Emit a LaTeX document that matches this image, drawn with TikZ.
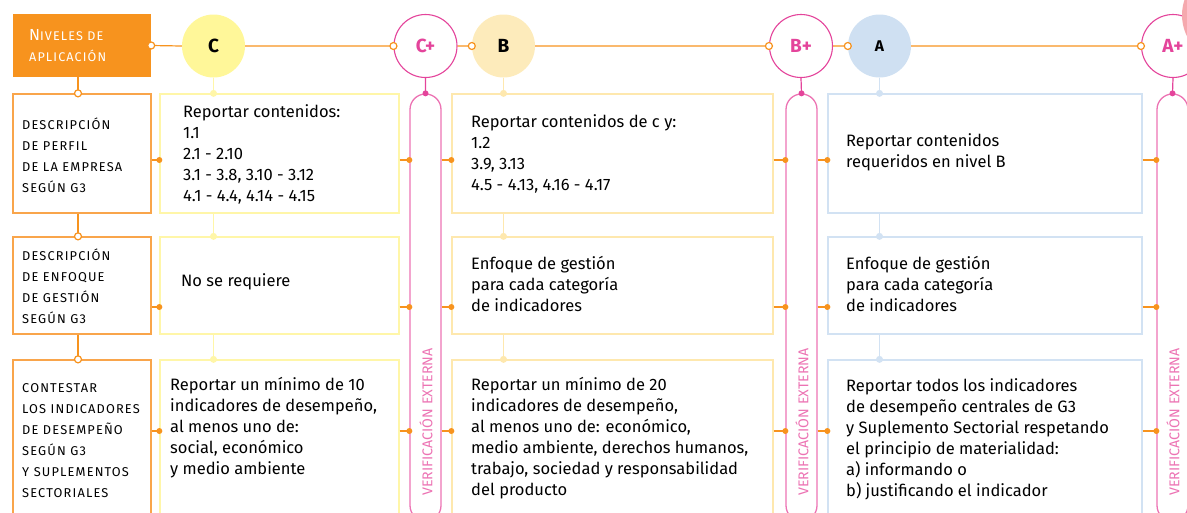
\documentclass[tikz,border=0pt]{standalone}
\usepackage{fontspec}
\setmainfont{Fira Sans}
\newfontfamily\versalita[LetterSpace=9]{Fira Sans}
\usepackage{xcolor}
\usetikzlibrary{calc}
\definecolor{naranja}{HTML}{F7931E}
\definecolor{naranjaborde}{HTML}{F9A54B}
\definecolor{rosa}{HTML}{E4449B}
\definecolor{rosaclaro}{HTML}{EC73B3}
\definecolor{rosado}{HTML}{F5A9AE}
\definecolor{amarillo}{HTML}{FFF799}
\definecolor{amarilloborde}{HTML}{FFF6A8}
\definecolor{durazno}{HTML}{FDEBBB}
\definecolor{duraznoborde}{HTML}{FEE8AE}
\definecolor{celeste}{HTML}{CFE0F2}
\definecolor{celesteborde}{HTML}{D2E2F3}
\tikzset{
	nivel/.style={circle,minimum size=63,inner sep=0,font=\bfseries\fontsize{19}{19}\selectfont},
	nivelplus/.style={nivel,draw=rosa,fill=white,text=rosa,line width=1.1},
	etiqueta/.style={draw=naranjaborde,line width=1.3,fill=white,inner sep=0,minimum width=138},
	caja/.style={draw=#1,line width=1.3,fill=white,inner sep=0},
	verif/.style={draw=rosaclaro,line width=1.3,rounded corners=15.5,inner sep=0,minimum width=31,minimum height=427},
	conector/.style={draw=naranja,line width=1.2},
	texto/.style={anchor=west,align=left,inner sep=0,font=\fontsize{16.5}{21}\selectfont},
	textocaps/.style={anchor=west,align=left,inner sep=0,font=\versalita\fontsize{12.8}{21}\selectfont},
	vtexto/.style={rotate=90,text=rosaclaro,inner sep=0,font=\fontsize{14.2}{14}\selectfont},
	abierto/.style={draw=naranja,fill=white,line width=1.2}
}

\begin{document}
\begin{tikzpicture}[x=1pt,y=-1pt]
	\useasboundingbox (0,0) rectangle (1187,512);
	\clip (0,0) rectangle (1187,512);
	% alturas de los conectores y eje de la columna de etiquetas
	\coordinate (r1) at (0,160);
	\coordinate (r2) at (0,307);
	\coordinate (r3) at (0,431);
	\coordinate (kl) at (78,0);

	% niveles
	\node[fill=naranja,minimum width=138,minimum height=63,inner sep=0] (niv) at (82,45.5) {};
	\node[textocaps,text=white,font=\versalita\fontsize{12.6}{21}\selectfont] (tniv) at (29,45.5) {{\fontsize{16}{21}\selectfont N}IVELES DE\\APLICACIÓN};
	\node[nivel,fill=amarillo] (c) at (213.5,46) {C};
	\node[nivelplus] (cplus) at (425.5,46) {C+};
	\node[nivel,fill=durazno] (b) at (503.5,46) {B};
	\node[nivelplus] (bplus) at (801,46) {B+};
	\node[nivel,fill=celeste,font=\bfseries\fontsize{15.5}{15}\selectfont] (a) at (879.5,46) {A};
	\node[nivelplus] (aplus) at (1173,46) {A+};
	\draw[conector] (niv.east)--(c.west) (c.east)--(cplus.west) (cplus.east)--(b.west)
		(b.east)--(bplus.west) (bplus.east)--(a.west) (a.east)--(aplus.west);
	\filldraw[abierto] (niv.east) circle (3.5) (cplus.west) circle (3.5) (b.west) circle (3.5)
		(bplus.west) circle (3.5) (a.west) circle (3.5) (aplus.west) circle (3.5);
	\fill[rosado] (1230,15) circle (48);

	% columna de etiquetas
	\node[etiqueta,minimum height=119] (lp1) at (82,153.5) {};
	\node[etiqueta,minimum height=97] (lp2) at (82,285.5) {};
	\node[etiqueta,minimum height=170] (lp3) at (82,445) {};
	\node[textocaps] (tlp1) at (22,155) {DESCRIPCIÓN\\DE PERFIL\\DE LA EMPRESA\\SEGÚN G3};
	\node[textocaps] (tlp2) at (22,286.5) {DESCRIPCIÓN\\DE ENFOQUE\\DE GESTIÓN\\SEGÚN G3};
	\node[textocaps] (tlp3) at (22,440.5) {CONTESTAR\\LOS INDICADORES\\DE DESEMPEÑO\\SEGÚN G3\\Y SUPLEMENTOS\\SECTORIALES};

	% nivel C
	\node[caja=amarilloborde,minimum width=239,minimum height=119] (c1) at (279.5,153.5) {};
	\node[caja=amarilloborde,minimum width=239,minimum height=97] (c2) at (279.5,285.5) {};
	\node[caja=amarilloborde,minimum width=239,minimum height=170] (c3) at (279.5,445) {};
	\node[texto] (tc1) at (183,154) {Reportar contenidos:\\1.1\\2.1 - 2.10\\3.1 - 3.8, 3.10 - 3.12\\4.1 - 4.4, 4.14 - 4.15};
	\node[texto] (tc2) at (181,282) {No se requiere};
	\node[texto] (tc3) at (170,428) {Reportar un mínimo de 10\\indicadores de desempeño,\\al menos uno de:\\social, económico\\y medio ambiente};

	% nivel B
	\node[caja=duraznoborde,minimum width=321,minimum height=119] (b1) at (612.5,153.5) {};
	\node[caja=duraznoborde,minimum width=321,minimum height=97] (b2) at (612.5,285.5) {};
	\node[caja=duraznoborde,minimum width=321,minimum height=170] (b3) at (612.5,445) {};
	\node[texto] (tb1) at (471,153.5) {Reportar contenidos de c y:\\1.2\\3.9, 3.13\\4.5 - 4.13, 4.16 - 4.17};
	\node[texto] (tb2) at (471,284) {Enfoque de gestión\\para cada categoría\\de indicadores};
	\node[texto] (tb3) at (471,438) {Reportar un mínimo de 20\\indicadores de desempeño,\\al menos uno de: económico,\\medio ambiente, derechos humanos,\\trabajo, sociedad y responsabilidad\\del producto};

	% nivel A
	\node[caja=celesteborde,minimum width=314,minimum height=119] (a1) at (985,153.5) {};
	\node[caja=celesteborde,minimum width=314,minimum height=97] (a2) at (985,285.5) {};
	\node[caja=celesteborde,minimum width=314,minimum height=170] (a3) at (985,445) {};
	\node[texto] (ta1) at (846,152.5) {Reportar contenidos\\requeridos en nivel B};
	\node[texto] (ta2) at (846,284) {Enfoque de gestión\\para cada categoría\\de indicadores};
	\node[texto] (ta3) at (846,439) {Reportar todos los indicadores\\de desempeño centrales de G3\\y Suplemento Sectorial respetando\\el principio de materialidad:\\a) informando o\\b) justificando el indicador};

	% verificacion externa
	\node[verif] (vcp) at (425.5,307.5) {};
	\node[verif] (vbp) at (801.5,307.5) {};
	\node[verif] (vap) at (1172.5,307.5) {};
	\node[vtexto] (tvcp) at (426,422) {VERIFICACIÓN EXTERNA};
	\node[vtexto] (tvbp) at (802,422) {VERIFICACIÓN EXTERNA};
	\node[vtexto] (tvap) at (1173,422) {VERIFICACIÓN EXTERNA};

	% conectores verticales
	\draw[conector] (niv.south-|kl)--(lp1.north-|kl) (lp1.south-|kl)--(lp2.north-|kl) (lp2.south-|kl)--(lp3.north-|kl);
	\filldraw[abierto] (lp1.north-|kl) circle (3.5) (lp2.north-|kl) circle (3.5) (lp3.north-|kl) circle (3.5);
	\draw[amarilloborde,line width=1.3] (c.south)--(c.south|-c1.north) (c.south|-c1.south)--(c.south|-c2.north)
		(c.south|-c2.south)--(c.south|-c3.north);
	\fill[amarilloborde] (c.south|-c1.north) circle (3.5) (c.south|-c2.north) circle (3.5) (c.south|-c3.north) circle (3.5);
	\draw[duraznoborde,line width=1.3] (b.south)--(b.south|-b1.north) (b.south|-b1.south)--(b.south|-b2.north)
		(b.south|-b2.south)--(b.south|-b3.north);
	\fill[duraznoborde] (b.south|-b1.north) circle (3.5) (b.south|-b2.north) circle (3.5) (b.south|-b3.north) circle (3.5);
	\draw[celesteborde,line width=1.3] (a.south)--(a.south|-a1.north) (a.south|-a1.south)--(a.south|-a2.north)
		(a.south|-a2.south)--(a.south|-a3.north);
	\fill[celesteborde] (a.south|-a1.north) circle (3.5) (a.south|-a2.north) circle (3.5) (a.south|-a3.north) circle (3.5);
	\draw[rosa,line width=1.2] (cplus.south)--(vcp.north) (bplus.south)--(vbp.north) (aplus.south)--(vap.north);
	\fill[rosa] (vcp.north) circle (3) (vbp.north) circle (3) (vap.north) circle (3);

	% conectores por fila
	\draw[conector] (lp1.east|-r1)--(c1.west|-r1) (c1.east|-r1)--(vcp.west|-r1) (vcp.east|-r1)--(b1.west|-r1)
		(b1.east|-r1)--(vbp.west|-r1) (vbp.east|-r1)--(a1.west|-r1) (a1.east|-r1)--(vap.west|-r1);
	\draw[conector] (lp2.east|-r2)--(c2.west|-r2) (c2.east|-r2)--(vcp.west|-r2) (vcp.east|-r2)--(b2.west|-r2)
		(b2.east|-r2)--(vbp.west|-r2) (vbp.east|-r2)--(a2.west|-r2) (a2.east|-r2)--(vap.west|-r2);
	\draw[conector] (lp3.east|-r3)--(c3.west|-r3) (c3.east|-r3)--(vcp.west|-r3) (vcp.east|-r3)--(b3.west|-r3)
		(b3.east|-r3)--(vbp.west|-r3) (vbp.east|-r3)--(a3.west|-r3) (a3.east|-r3)--(vap.west|-r3);
	\fill[naranja] (c1.west|-r1) circle (3) (vcp.west|-r1) circle (3) (b1.west|-r1) circle (3)
		(vbp.west|-r1) circle (3) (a1.west|-r1) circle (3) (vap.west|-r1) circle (3);
	\fill[naranja] (c2.west|-r2) circle (3) (vcp.west|-r2) circle (3) (b2.west|-r2) circle (3)
		(vbp.west|-r2) circle (3) (a2.west|-r2) circle (3) (vap.west|-r2) circle (3);
	\fill[naranja] (c3.west|-r3) circle (3) (vcp.west|-r3) circle (3) (b3.west|-r3) circle (3)
		(vbp.west|-r3) circle (3) (a3.west|-r3) circle (3) (vap.west|-r3) circle (3);
\end{tikzpicture}
\end{document}
